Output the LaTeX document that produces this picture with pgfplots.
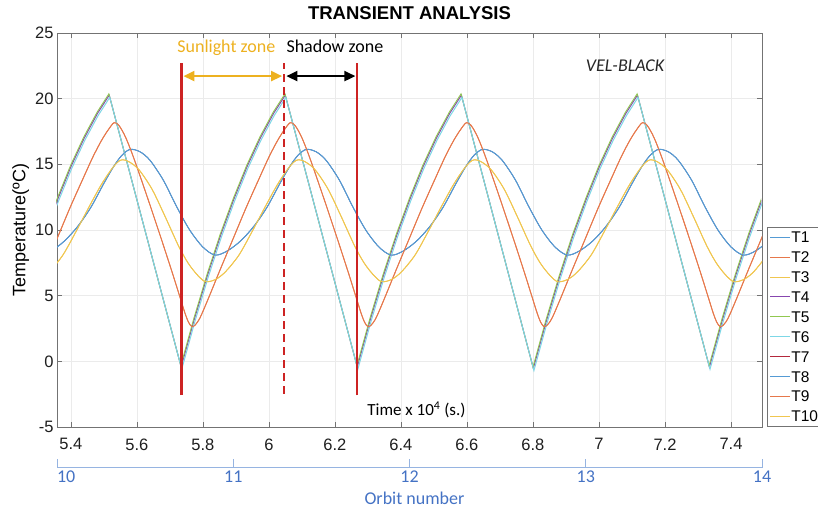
\documentclass[border=0pt]{standalone}
\usepackage{fontspec}
\setmainfont{Liberation Sans}
\newfontfamily\calibri{Carlito}
\usepackage{pgfplots}
\usepackage{pgfplotstable}
\pgfplotsset{compat=1.18}
\usetikzlibrary{arrows.meta}

\definecolor{cA}{RGB}{85,155,212}
\definecolor{cB}{RGB}{230,120,75}
\definecolor{cC}{RGB}{240,198,80}
\definecolor{cD}{RGB}{135,70,175}
\definecolor{cE}{RGB}{145,200,80}
\definecolor{cF}{RGB}{125,215,230}
\definecolor{cG}{RGB}{180,40,60}
\definecolor{zonered}{RGB}{205,35,35}
\definecolor{sunyellow}{RGB}{237,177,32}
\definecolor{orbitline}{RGB}{150,180,225}
\definecolor{orbittext}{RGB}{68,114,196}

\pgfplotstableread{
x y
5.3225 9.46
5.3625 12.2
5.4025 14.68
5.4425 16.84
5.4825 18.71
5.518 20.1
5.736 -0.6
5.776 3.05
5.816 6.4
5.856 9.46
5.896 12.2
5.936 14.68
5.976 16.84
6.016 18.71
6.0515 20.1
6.2695 -0.6
6.3095 3.05
6.3495 6.4
6.3895 9.46
6.4295 12.2
6.4695 14.68
6.5095 16.84
6.5495 18.71
6.585 20.1
6.803 -0.7
6.843 2.95
6.883 6.3
6.923 9.4
6.963 12.15
7.003 14.65
7.043 16.82
7.083 18.7
7.1185 20.1
7.3365 -0.6
7.3765 3.05
7.4165 6.4
7.4565 9.46
7.4965 12.2
7.5365 14.68
}\tri

\pgfplotstableread{
x y
5.2825 4.75
5.3175 6.9
5.3575 9.3
5.3975 11.7
5.4375 13.95
5.4675 15.6
5.4925 16.8
5.5125 17.6
5.531 18.17
5.546 17.95
5.566 17.05
5.591 15.45
5.631 12.55
5.671 9.55
5.706 6.85
5.731 4.85
5.746 3.65
5.756 3.0
5.766 2.65
5.776 2.75
5.791 3.3
5.816 4.75
5.851 6.9
5.891 9.3
5.931 11.7
5.971 13.95
6.001 15.6
6.026 16.8
6.046 17.6
6.0645 18.17
6.0795 17.95
6.0995 17.05
6.1245 15.45
6.1645 12.55
6.2045 9.55
6.2395 6.85
6.2645 4.85
6.2795 3.65
6.2895 3.0
6.2995 2.65
6.3095 2.75
6.3245 3.3
6.3495 4.75
6.3845 6.9
6.4245 9.3
6.4645 11.7
6.5045 13.95
6.5345 15.6
6.5595 16.8
6.5795 17.6
6.598 18.17
6.613 17.95
6.633 17.05
6.658 15.45
6.698 12.55
6.738 9.55
6.773 6.85
6.798 4.85
6.813 3.65
6.823 3.0
6.833 2.65
6.843 2.75
6.858 3.3
6.883 4.75
6.918 6.9
6.958 9.3
6.998 11.7
7.038 13.95
7.068 15.6
7.093 16.8
7.113 17.6
7.1315 18.17
7.1465 17.95
7.1665 17.05
7.1915 15.45
7.2315 12.55
7.2715 9.55
7.3065 6.85
7.3315 4.85
7.3465 3.65
7.3565 3.0
7.3665 2.65
7.3765 2.75
7.3915 3.3
7.4165 4.75
7.4515 6.9
7.4915 9.3
7.5315 11.7
}\org

\pgfplotstableread{
x y
5.2665 8.7
5.3035 8.09
5.340 8.4
5.380 9.15
5.420 10.25
5.460 11.7
5.500 13.55
5.530 14.85
5.555 15.7
5.580 16.14
5.610 15.95
5.640 15.3
5.680 13.8
5.720 11.8
5.760 10.0
5.800 8.7
5.837 8.09
5.8735 8.4
5.9135 9.15
5.9535 10.25
5.9935 11.7
6.0335 13.55
6.0635 14.85
6.0885 15.7
6.1135 16.14
6.1435 15.95
6.1735 15.3
6.2135 13.8
6.2535 11.8
6.2935 10.0
6.3335 8.7
6.3705 8.09
6.407 8.4
6.447 9.15
6.487 10.25
6.527 11.7
6.567 13.55
6.597 14.85
6.622 15.7
6.647 16.14
6.677 15.95
6.707 15.3
6.747 13.8
6.787 11.8
6.827 10.0
6.867 8.7
6.904 8.09
6.9405 8.4
6.9805 9.15
7.0205 10.25
7.0605 11.7
7.1005 13.55
7.1305 14.85
7.1555 15.7
7.1805 16.14
7.2105 15.95
7.2405 15.3
7.2805 13.8
7.3205 11.8
7.3605 10.0
7.4005 8.7
7.4375 8.09
7.474 8.4
7.514 9.15
}\blu

\pgfplotstableread{
x y
5.2755 6.06
5.306 6.25
5.336 6.85
5.376 8.1
5.416 9.9
5.456 11.8
5.491 13.4
5.521 14.55
5.541 15.15
5.556 15.35
5.576 15.2
5.606 14.6
5.646 13.1
5.686 11.0
5.726 8.8
5.756 7.45
5.786 6.5
5.809 6.06
5.8395 6.25
5.8695 6.85
5.9095 8.1
5.9495 9.9
5.9895 11.8
6.0245 13.4
6.0545 14.55
6.0745 15.15
6.0895 15.35
6.1095 15.2
6.1395 14.6
6.1795 13.1
6.2195 11.0
6.2595 8.8
6.2895 7.45
6.3195 6.5
6.3425 6.06
6.373 6.25
6.403 6.85
6.443 8.1
6.483 9.9
6.523 11.8
6.558 13.4
6.588 14.55
6.608 15.15
6.623 15.35
6.643 15.2
6.673 14.6
6.713 13.1
6.753 11.0
6.793 8.8
6.823 7.45
6.853 6.5
6.876 6.06
6.9065 6.25
6.9365 6.85
6.9765 8.1
7.0165 9.9
7.0565 11.8
7.0915 13.4
7.1215 14.55
7.1415 15.15
7.1565 15.35
7.1765 15.2
7.2065 14.6
7.2465 13.1
7.2865 11.0
7.3265 8.8
7.3565 7.45
7.3865 6.5
7.4095 6.06
7.44 6.25
7.47 6.85
7.51 8.1
}\yel

\begin{document}
\begin{tikzpicture}
\begin{axis}[
  at={(57pt,80pt)}, anchor=south west,
  scale only axis, width=705pt, height=394pt,
  xmin=5.358, xmax=7.494, ymin=-5, ymax=25,
  xtick={5.4,5.6,5.8,6,6.2,6.4,6.6,6.8,7,7.2,7.4},
  ytick={-5,0,5,10,15,20,25},
  tick pos=both, tick align=inside,
  major tick length=5pt,
  grid=major,
  major grid style={draw=black!8, line width=0.5pt},
  axis line style={draw=black!55, line width=0.6pt},
  every tick/.style={draw=black!55, line width=0.6pt},
  tick label style={font=\fontsize{16.5}{18}\selectfont, text=black!88},
  /pgf/number format/assume math mode=true,
  xticklabel style={yshift=-8pt},
  title={TRANSIENT ANALYSIS},
  title style={font=\bfseries\fontsize{18.5}{20}\selectfont, at={(axis description cs:0.5,1)}, anchor=base, yshift=8pt},
  ylabel={Temperature(ºC)},
  ylabel style={font=\fontsize{18}{20}\selectfont, at={(axis description cs:-0.0515,0.5)}, anchor=center},
  clip mode=individual,
  legend cell align=left,
  legend style={at={(axis description cs:1.0071,0.5076)}, anchor=north west,
    draw=black!55, line width=0.6pt, fill=white,
    font=\fontsize{15.5}{18}\selectfont,
    inner xsep=2pt, inner ysep=0pt, row sep=0pt,
    nodes={inner xsep=1pt, inner ysep=0pt, text height=11pt, text depth=0pt, minimum height=19.9pt}},
  legend image code/.code={\draw[#1, line width=1pt] (0pt,0pt) -- (20pt,0pt);},
]
% legend entries (drawing order chosen separately below)
\addlegendimage{cA}\addlegendentry{T1}
\addlegendimage{cB}\addlegendentry{T2}
\addlegendimage{cC}\addlegendentry{T3}
\addlegendimage{cD}\addlegendentry{T4}
\addlegendimage{cE}\addlegendentry{T5}
\addlegendimage{cF}\addlegendentry{T6}
\addlegendimage{cG}\addlegendentry{T7}
\addlegendimage{cA}\addlegendentry{T8}
\addlegendimage{cB}\addlegendentry{T9}
\addlegendimage{cC}\addlegendentry{T10}

% T7 lies under T1/T8
\addplot[forget plot, cG, line width=0.5pt, smooth, tension=0.5] table[x=x,y=y] {\blu};
% T1, T2, T3
\addplot[forget plot, cA, line width=0.9pt, smooth, tension=0.5] table[x=x,y=y] {\blu};
\addplot[forget plot, cB, line width=0.9pt, smooth, tension=0.5] table[x=x,y=y] {\org};
\addplot[forget plot, cC, line width=0.9pt, smooth, tension=0.5] table[x=x,y=y] {\yel};
% T4, T5, T6 (near-identical nodes)
\addplot[forget plot, cD, line width=1pt, xshift=-0.6pt, yshift=2.22pt] table[x=x,y=y] {\tri};
\addplot[forget plot, cE, line width=0.9pt, xshift=-0.95pt, yshift=3.5pt] table[x=x,y=y] {\tri};
\addplot[forget plot, cF, line width=1pt] table[x=x,y=y] {\tri};
% T8, T9, T10
\addplot[forget plot, cA, line width=0.9pt, smooth, tension=0.5] table[x=x,y=y] {\blu};
\addplot[forget plot, cB, line width=0.9pt, smooth, tension=0.5] table[x=x,y=y] {\org};
\addplot[forget plot, cC, line width=0.9pt, smooth, tension=0.5] table[x=x,y=y] {\yel};

% zone boundaries
\addplot[forget plot, zonered, line width=2.5pt] coordinates {(5.7355,-2.57) (5.7355,22.69)};
\addplot[forget plot, zonered, line width=2.5pt, dash pattern=on 8pt off 5pt] coordinates {(6.0464,-2.45) (6.0464,22.69)};
\addplot[forget plot, zonered, line width=2.5pt] coordinates {(6.2676,-2.6) (6.2676,22.69)};
% zone arrows
\addplot[forget plot, sunyellow, line width=2.2pt, {Triangle[length=11pt,width=10pt]}-{Triangle[length=11pt,width=10pt]}] coordinates {(5.741,21.72) (6.040,21.72)};
\addplot[forget plot, black, line width=2.2pt, {Triangle[length=11pt,width=10pt]}-{Triangle[length=11pt,width=10pt]}] coordinates {(6.053,21.72) (6.262,21.72)};

\node[font=\calibri\fontsize{18}{20}\selectfont, text=sunyellow, anchor=base] at (axis cs:5.871,23.5) {Sunlight zone};
\node[font=\calibri\fontsize{18}{20}\selectfont, text=black, anchor=base] at (axis cs:6.200,23.5) {Shadow zone};
\node[font=\calibri\itshape\fontsize{18}{20}\selectfont, text=black!85, anchor=base] at (axis cs:7.079,22.05) {VEL-BLACK};
\node[font=\calibri\fontsize{17}{20}\selectfont, text=black, anchor=base] at (axis cs:6.447,-4.15) {Time x 10\textsuperscript{4} (s.)};
\end{axis}

\begin{axis}[
  at={(57pt,39.5pt)}, anchor=south west,
  scale only axis, width=705pt, height=9pt,
  xmin=10, xmax=14, ymin=0, ymax=1,
  axis x line=bottom, axis y line=none,
  x axis line style={-, draw=orbitline, line width=0.8pt},
  xtick={10,11,12,13,14},
  xticklabels={\phantom{10}10,11,12,13,14},
  tick align=inside, major tick length=9pt,
  every tick/.style={draw=orbitline, line width=0.8pt},
  xticklabel style={font=\calibri\fontsize{18}{20}\selectfont, text=orbittext},
  xlabel={Orbit number},
  xlabel style={font=\calibri\fontsize{18}{20}\selectfont, text=orbittext, at={(axis description cs:0.5,0)}, anchor=base, yshift=-36.5pt, xshift=5pt},
]
\end{axis}
\pgfresetboundingbox
\path[use as bounding box] (0pt,0pt) rectangle (818pt,507pt);
\end{tikzpicture}
\end{document}
